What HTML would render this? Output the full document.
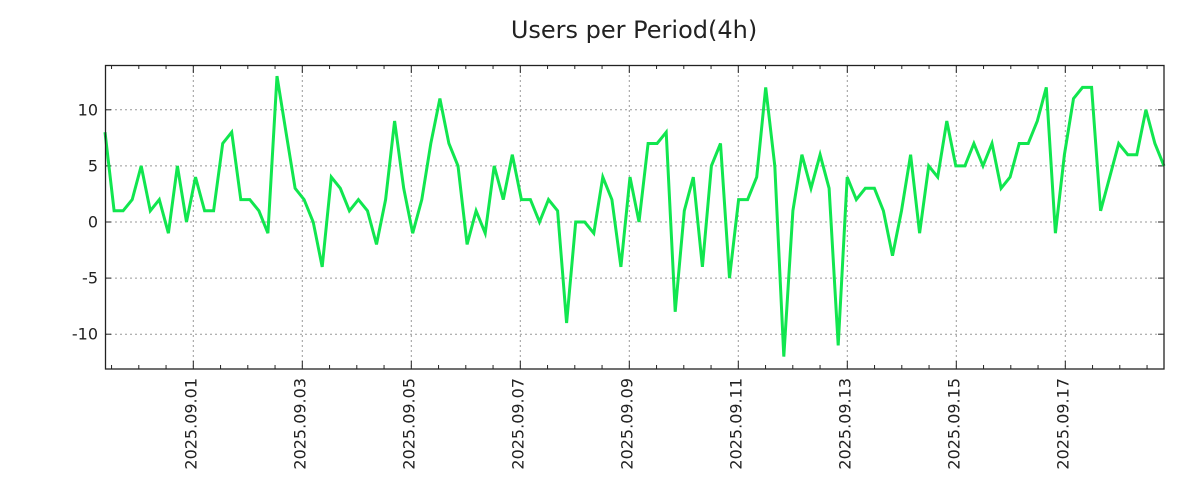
<!DOCTYPE html>
<html><head><meta charset="utf-8"><style>
html,body{margin:0;padding:0;background:#fff;}
svg{display:block;font-family:"DejaVu Sans","Liberation Sans",sans-serif;}
</style></head><body>
<svg id="c" width="1200" height="500" xmlns="http://www.w3.org/2000/svg">
<rect width="1200" height="500" fill="#fff"/>
<text x="634" y="38" font-size="24" text-anchor="middle" fill="#222">Users per Period(4h)</text>
<g id="grid"></g>
<polyline id="line" fill="none" stroke="#11e64f" stroke-width="3" stroke-linejoin="miter"/>
<rect x="105.5" y="65.5" width="1058.5" height="303.5" fill="none" stroke="#222" stroke-width="1.3"/>
<g id="lbl" font-size="16" fill="#222"></g>
</svg>
<script>
var d=[8,1,1,2,5,1,2,-1,5,0,4,1,1,7,8,2,2,1,-1,13,8,3,2,0,-4,4,3,1,2,1,-2,2,9,3,-1,2,7,11,7,5,-2,1,-1,5,2,6,2,2,0,2,1,-9,0,0,-1,4,2,-4,4,0,7,7,8,-8,1,4,-4,5,7,-5,2,2,4,12,5,-12,1,6,3,6,3,-11,4,2,3,3,1,-3,1,6,-1,5,4,9,5,5,7,5,7,3,4,7,7,9,12,-1,6,11,12,12,1,4,7,6,6,10,7,5];
function Y(v){return 222-v*11.22;}
var pts=d.map(function(v,i){return (105+i*(1164-105)/117).toFixed(1)+","+Y(v).toFixed(1)}).join(" ");
document.getElementById("line").setAttribute("points",pts);
var g="",l="";
[10,5,0,-5,-10].forEach(function(v){var y=Y(v).toFixed(1);
g+='<line x1="105" x2="1164" y1="'+y+'" y2="'+y+'" stroke="#999" stroke-dasharray="2,3" stroke-width="1"/>';
g+='<line x1="105" x2="111" y1="'+y+'" y2="'+y+'" stroke="#222"/><line x1="1158" x2="1164" y1="'+y+'" y2="'+y+'" stroke="#222"/>';
l+='<text x="98" y="'+(+y+5.5)+'" text-anchor="end">'+v+'</text>';});
for(var k=-3;k<40;k++){var x=193.3+27.25*k;if(x<106||x>1163)continue;
var maj=(k%4===0);
if(maj){g+='<line x1="'+x+'" x2="'+x+'" y1="65" y2="369" stroke="#999" stroke-dasharray="2,3"/>';
g+='<line x1="'+x+'" x2="'+x+'" y1="361" y2="369" stroke="#222"/><line x1="'+x+'" x2="'+x+'" y1="65" y2="73" stroke="#222"/>';
var day=("0"+(1+2*(k/4))).slice(-2);
l+='<text transform="translate('+(x+3)+',378) rotate(-90)" text-anchor="end">2025.09.'+day+'</text>';}
else{g+='<line x1="'+x+'" x2="'+x+'" y1="365" y2="369" stroke="#222"/><line x1="'+x+'" x2="'+x+'" y1="65" y2="69" stroke="#222"/>';}}
document.getElementById("grid").innerHTML=g;
document.getElementById("lbl").innerHTML=l;
</script>
</body></html>
